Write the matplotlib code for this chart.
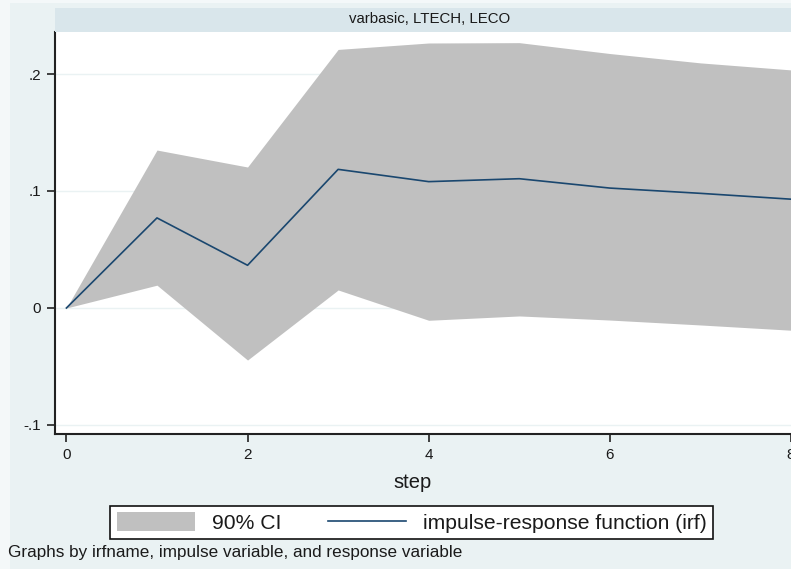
import matplotlib
matplotlib.use("Agg")
import matplotlib.pyplot as plt
from matplotlib.patches import Rectangle, Patch
from matplotlib.lines import Line2D

plt.rcParams['font.family'] = ['Liberation Sans', 'DejaVu Sans']

# Impulse response of LECO to an LTECH shock (varbasic)
steps = [0, 1, 2, 3, 4, 5, 6, 7, 8]
irf = [0.0, 0.077, 0.0365, 0.1185, 0.108, 0.1105, 0.1025, 0.098, 0.093]
ci_upper = [0.0, 0.135, 0.1205, 0.221, 0.2265, 0.2268, 0.2175, 0.2095, 0.2035]
ci_lower = [0.0, 0.0195, -0.0445, 0.0154, -0.0105, -0.0068, -0.0103, -0.0145, -0.019]

y_ticks = [-0.1, 0.0, 0.1, 0.2]
y_tick_labels = ["-.1", "0", ".1", ".2"]
x_ticks = [0, 2, 4, 6, 8]
x_tick_labels = ["0", "2", "4", "6", "8"]

panel_title = "varbasic, LTECH, LECO"
x_label = "step"
ci_label = "90% CI"
irf_label = "impulse-response function (irf)"
note = "Graphs by irfname, impulse variable, and response variable"

W, H = 791, 569
BG = "#EAF2F3"
STRIP = "#D9E6EB"
CI_COLOR = "#C0C0C0"
LINE_COLOR = "#1A476F"

fig = plt.figure(figsize=(W / 100, H / 100), dpi=100, facecolor=BG)


def fx(px):
    return px / W


def fy(py):
    return 1 - py / H


# lighter outer margin
fig.patches.append(Rectangle((0, 0), fx(10), 1, transform=fig.transFigure,
                             facecolor="#F4F8F9", edgecolor="none", zorder=0))
fig.patches.append(Rectangle((0, fy(3)), 1, 3 / H, transform=fig.transFigure,
                             facecolor="#F4F8F9", edgecolor="none", zorder=0))

# panel title strip
fig.patches.append(Rectangle((fx(55), fy(32)), fx(791) - fx(55), fy(8) - fy(32),
                             transform=fig.transFigure, facecolor=STRIP,
                             edgecolor="none", zorder=1))
fig.text(fx(430), fy(19), panel_title, ha="center", va="center",
         fontsize=10.8, color="#1a1a1a")

ax = fig.add_axes([fx(55), fy(434), fx(791) - fx(55), fy(32) - fy(434)])
ax.set_facecolor("white")

ax.fill_between(steps, ci_lower, ci_upper, color=CI_COLOR, linewidth=0, zorder=2)
ax.plot(steps, irf, color=LINE_COLOR, linewidth=1.2, zorder=3)

ax.set_xlim(-0.126, 7.96)
ax.set_ylim(-0.1077, 0.2359)

ax.set_yticks(y_ticks)
ax.set_yticklabels(y_tick_labels)
ax.set_xticks(x_ticks)
ax.set_xticklabels(x_tick_labels)

for y in y_ticks:
    ax.axhline(y, color=BG, linewidth=1.0, zorder=1)

for side in ("top", "right"):
    ax.spines[side].set_visible(False)
for side in ("left", "bottom"):
    ax.spines[side].set_color("#222222")
    ax.spines[side].set_linewidth(1.5)

ax.tick_params(axis="both", direction="out", length=6, width=1.2,
               color="#222222", labelsize=11, labelcolor="#1a1a1a", pad=4)

fig.text(fx(413), fy(483), x_label, ha="center", va="center",
         fontsize=14.5, color="#1a1a1a")

handles = [Patch(facecolor=CI_COLOR, edgecolor="none", label=ci_label),
           Line2D([], [], color=LINE_COLOR, linewidth=1.2, label=irf_label)]
leg = fig.legend(handles=handles, loc="center", ncol=2,
                 bbox_to_anchor=(fx(411.5), fy(522.5)),
                 fontsize=15.2, frameon=True, fancybox=False,
                 edgecolor="#111111", facecolor="white", framealpha=1,
                 handlelength=3.7, handleheight=0.95, handletextpad=0.8,
                 columnspacing=2.2, borderpad=0.3)
leg.get_frame().set_linewidth(1.2)
for t in leg.get_texts():
    t.set_color("#1a1a1a")

fig.text(fx(8), fy(553), note, ha="left", va="center",
         fontsize=12.3, color="#1a1a1a")

fig.savefig("out.png", dpi=100, facecolor=BG)
